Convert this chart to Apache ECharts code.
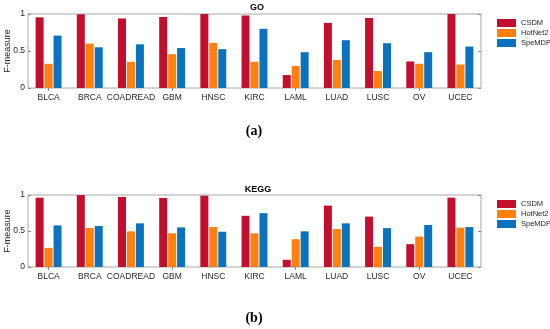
<!DOCTYPE html>
<html><head><meta charset="utf-8">
<script src="https://cdn.jsdelivr.net/npm/echarts@6/dist/echarts.min.js"></script>
<style>html,body{margin:0;padding:0;background:#fff}#c{width:550px;height:329px}</style>
</head><body><div id="c"></div>
<script>
const categories = ['BLCA','BRCA','COADREAD','GBM','HNSC','KIRC','LAML','LUAD','LUSC','OV','UCEC'];
const seriesNames = ['CSDM','HotNet2','SpeMDP'];
const goCSDM    = [0.955,0.996,0.94,0.96,1.0,0.98,0.175,0.88,0.946,0.359,1.0];
const goHotNet2 = [0.327,0.60,0.354,0.457,0.61,0.354,0.296,0.38,0.229,0.327,0.318];
const goSpeMDP  = [0.708,0.55,0.59,0.54,0.525,0.80,0.484,0.646,0.605,0.484,0.56];
const keggCSDM    = [0.963,1.0,0.972,0.959,0.99,0.711,0.10,0.853,0.70,0.317,0.963];
const keggHotNet2 = [0.266,0.541,0.495,0.468,0.555,0.468,0.385,0.528,0.28,0.422,0.546];
const keggSpeMDP  = [0.578,0.569,0.606,0.55,0.49,0.748,0.495,0.606,0.54,0.583,0.555];
const yTicks = [0, 0.5, 1];
const titles = ['GO','KEGG'];
const panelLabels = ['(a)','(b)'];

const colors = ['#C20F2E','#FF7F0F','#0B72BE'];
const font = 'Liberation Sans, Arial, sans-serif';
const grids = [
  {left:28, right:69, top:14, height:74},
  {left:28, right:69, top:195, height:72}
];
const chart = echarts.init(document.getElementById('c'), null, {renderer:'canvas'});
const xAxes = [], yAxes = [], series = [], legends = [];
const data = [[goCSDM,goHotNet2,goSpeMDP],[keggCSDM,keggHotNet2,keggSpeMDP]];
grids.forEach((g,i)=>{
  g.show = true; g.borderColor = '#a8a8a8'; g.borderWidth = 1; g.containLabel = false; g.outerBoundsMode = 'none';
  xAxes.push({type:'category', gridIndex:i, data:categories, position:'bottom',
    axisLine:{show:false}, axisTick:{show:true, inside:true, length:3, alignWithLabel:true, lineStyle:{color:'#888'}},
    axisLabel:{fontSize:8.5, color:'#262626', fontFamily:font, margin:5, interval:0}});
  xAxes.push({type:'category', gridIndex:i, data:categories, position:'top',
    axisLine:{show:false}, axisTick:{show:true, inside:true, length:3, alignWithLabel:true, lineStyle:{color:'#888'}},
    axisLabel:{show:false}});
  yAxes.push({type:'value', gridIndex:i, min:0, max:1, interval:0.5, position:'left',
    name:'F-measure', nameLocation:'middle', nameGap:16, nameMoveOverlap:false,
    nameTextStyle:{fontSize:9, color:'#262626', fontFamily:font},
    axisLine:{show:false}, splitLine:{show:false},
    axisTick:{show:true, inside:true, length:3, lineStyle:{color:'#888'}},
    axisLabel:{fontSize:8.5, color:'#262626', fontFamily:font, margin:3, formatter:v=>yTicks.includes(v)?String(v):''}});
  yAxes.push({type:'value', gridIndex:i, min:0, max:1, interval:0.5, position:'right',
    axisLine:{show:false}, splitLine:{show:false},
    axisTick:{show:true, inside:true, length:3, lineStyle:{color:'#888'}},
    axisLabel:{show:false}});
  seriesNames.forEach((n,k)=>{
    series.push({type:'bar', name:n, xAxisIndex:i*2, yAxisIndex:i*2, data:data[i][k],
      barWidth:8, barGap:'12%', itemStyle:{color:colors[k]}, silent:true});
  });
  legends.push({orient:'vertical', left:497, top: i===0?19:200, padding:0, itemWidth:19, itemHeight:8, itemGap:2,
    icon:'rect', data:seriesNames,
    textStyle:{fontSize:7.5, lineHeight:8, color:'#262626', fontFamily:font}});
});

chart.setOption({
  animation:false,
  color: colors,
  grid: grids,
  xAxis: xAxes,
  yAxis: yAxes,
  legend: legends,
  title: [
    {text:titles[0], left:257, top:3, padding:0, textAlign:'center', textStyle:{fontSize:9, fontWeight:'bold', color:'#000', fontFamily:font}},
    {text:titles[1], left:258, top:185, padding:0, textAlign:'center', textStyle:{fontSize:9, fontWeight:'bold', color:'#000', fontFamily:font}}
  ],
  graphic: [
    {type:'text', x:254, y:131, style:{text:panelLabels[0], fontSize:14, fontWeight:'bold', fontFamily:'Liberation Serif, DejaVu Serif, serif', fill:'#000', align:'center', verticalAlign:'middle'}},
    {type:'text', x:254, y:318, style:{text:panelLabels[1], fontSize:14, fontWeight:'bold', fontFamily:'Liberation Serif, DejaVu Serif, serif', fill:'#000', align:'center', verticalAlign:'middle'}}
  ],
  series: series
});
</script>
</body></html>
